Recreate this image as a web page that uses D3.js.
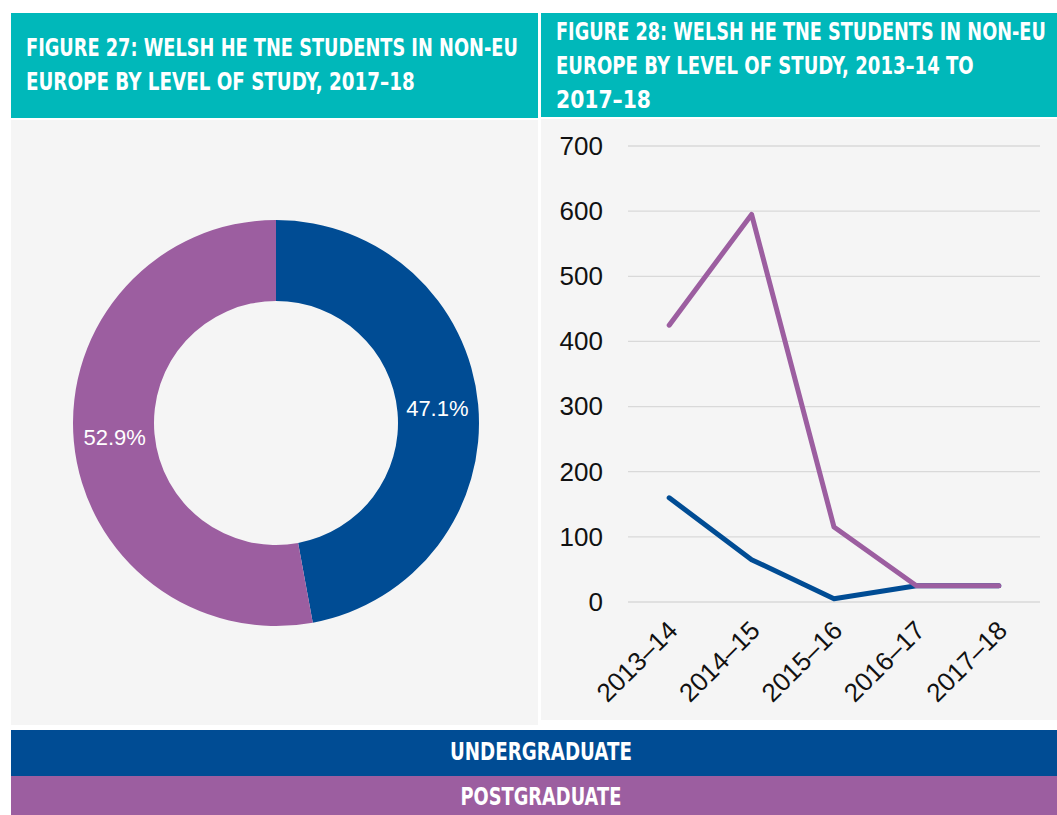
<html>
<script src="https://cdn.jsdelivr.net/npm/d3@7"></script>
<style>
  body { margin: 0; background: #fff; }
  .hdr { font-family: "DejaVu Sans", sans-serif; font-weight: bold; fill: #fff; font-size: 24px; }
  .tick text { font-family: "Liberation Sans", Arial, sans-serif; }
</style>
<body>
<svg width=1057 height=815></svg>
</body>
<script>

// data
var levels = ["Undergraduate", "Postgraduate"];
var colours = ["#004C94", "#9C5EA0"];
var share2017 = [47.1, 52.9];
var years = ["2013\u201314", "2014\u201315", "2015\u201316", "2016\u201317", "2017\u201318"];
var ugValues = [160, 65, 5, 25, 25];
var pgValues = [425, 595, 115, 25, 25];
var yTicks = [0, 100, 200, 300, 400, 500, 600, 700];

var svg = d3.select("svg");
var teal = "#00B8BA";
var panel = "#F5F5F5";

// panels
svg.append("rect").attr("x",11).attr("y",13).attr("width",527).attr("height",105).attr("fill",teal);
svg.append("rect").attr("x",541).attr("y",13).attr("width",516).attr("height",104).attr("fill",teal);
svg.append("rect").attr("x",11).attr("y",120).attr("width",527).attr("height",605).attr("fill",panel);
svg.append("rect").attr("x",541).attr("y",119).attr("width",516).attr("height",601).attr("fill",panel);

// squeeze a text horizontally to a given width (condensed look)
function squeeze(sel, x, y, w, anchor) {
  var nat = sel.node().getComputedTextLength();
  var sx = w / nat;
  var x0 = anchor === "middle" ? x - w/2 : x;
  sel.attr("x", 0).attr("y", 0)
    .attr("transform", "translate(" + x0 + "," + y + ") scale(" + sx + ",1)");
}

function header(x, y, lines, widths) {
  lines.forEach(function(l, i) {
    var t = svg.append("text").attr("class","hdr").text(l);
    squeeze(t, x, y + i*34, widths[i]);
  });
}
header(26, 56, ["FIGURE 27: WELSH HE TNE STUDENTS IN NON-EU", "EUROPE BY LEVEL OF STUDY, 2017\u201318"], [492, 389]);
header(556, 40, ["FIGURE 28: WELSH HE TNE STUDENTS IN NON-EU", "EUROPE BY LEVEL OF STUDY, 2013\u201314 TO", "2017\u201318"], [490, 418, 95]);

// donut
var pie = d3.pie().sort(null).value(function(d){ return d; });
var arc = d3.arc().innerRadius(122).outerRadius(203);
var arcs = pie(share2017);
var g = svg.append("g").attr("transform","translate(276,423)");
g.selectAll("path").data(arcs).enter().append("path")
  .attr("d", arc).attr("fill", function(d,i){ return colours[i]; });
var labelArc = d3.arc().innerRadius(162).outerRadius(162);
g.selectAll("text").data(arcs).enter().append("text")
  .attr("transform", function(d){ return "translate(" + labelArc.centroid(d) + ")"; })
  .attr("text-anchor","middle").attr("dy","0.35em")
  .attr("fill","#fff")
  .style("font-family","Liberation Sans, Arial, sans-serif").style("font-size","22px")
  .text(function(d){ return d.data.toFixed(1) + "%"; });

// line chart
var x = d3.scaleBand().domain(years).range([628, 1040]);
var y = d3.scaleLinear().domain([0, 700]).range([602, 146]);

var grid = svg.append("g");
grid.selectAll("line").data(yTicks).enter().append("line")
  .attr("x1", 628).attr("x2", 1040)
  .attr("y1", function(d){ return y(d); }).attr("y2", function(d){ return y(d); })
  .attr("stroke", "#D9D9D9").attr("stroke-width", 1.3);

var yAxis = svg.append("g").attr("transform","translate(610,0)")
  .call(d3.axisLeft(y).tickValues(yTicks).tickSize(0).tickPadding(7));
yAxis.select(".domain").remove();
yAxis.selectAll("text").style("font-size","26px").attr("fill","#111");

var xAxis = svg.append("g").attr("transform","translate(0,602)")
  .call(d3.axisBottom(x).tickSize(0).tickPadding(0));
xAxis.select(".domain").remove();
xAxis.selectAll("text")
  .style("font-size","26px").attr("fill","#111")
  .attr("text-anchor","end")
  .attr("dy", null).attr("y", 0)
  .attr("transform","translate(10,30) rotate(-45)");

var line = d3.line()
  .x(function(d,i){ return x(years[i]) + x.bandwidth()/2; })
  .y(function(d){ return y(d); });

[ugValues, pgValues].forEach(function(vals, i) {
  svg.append("path").datum(vals).attr("d", line)
    .attr("fill","none").attr("stroke", colours[i])
    .attr("stroke-width", 5).attr("stroke-linecap","round").attr("stroke-linejoin","round");
});

// legend bars
var leg = svg.append("g");
var legY = [730, 776];
var legH = [46, 39];
var legW = [182, 161];
var legBase = [760, 805];
levels.forEach(function(l, i) {
  leg.append("rect").attr("x",11).attr("y",legY[i]).attr("width",1046).attr("height",legH[i]).attr("fill",colours[i]);
  var t = leg.append("text").attr("class","hdr").text(l.toUpperCase());
  squeeze(t, 541, legBase[i], legW[i], "middle");
});

</script>
</html>
